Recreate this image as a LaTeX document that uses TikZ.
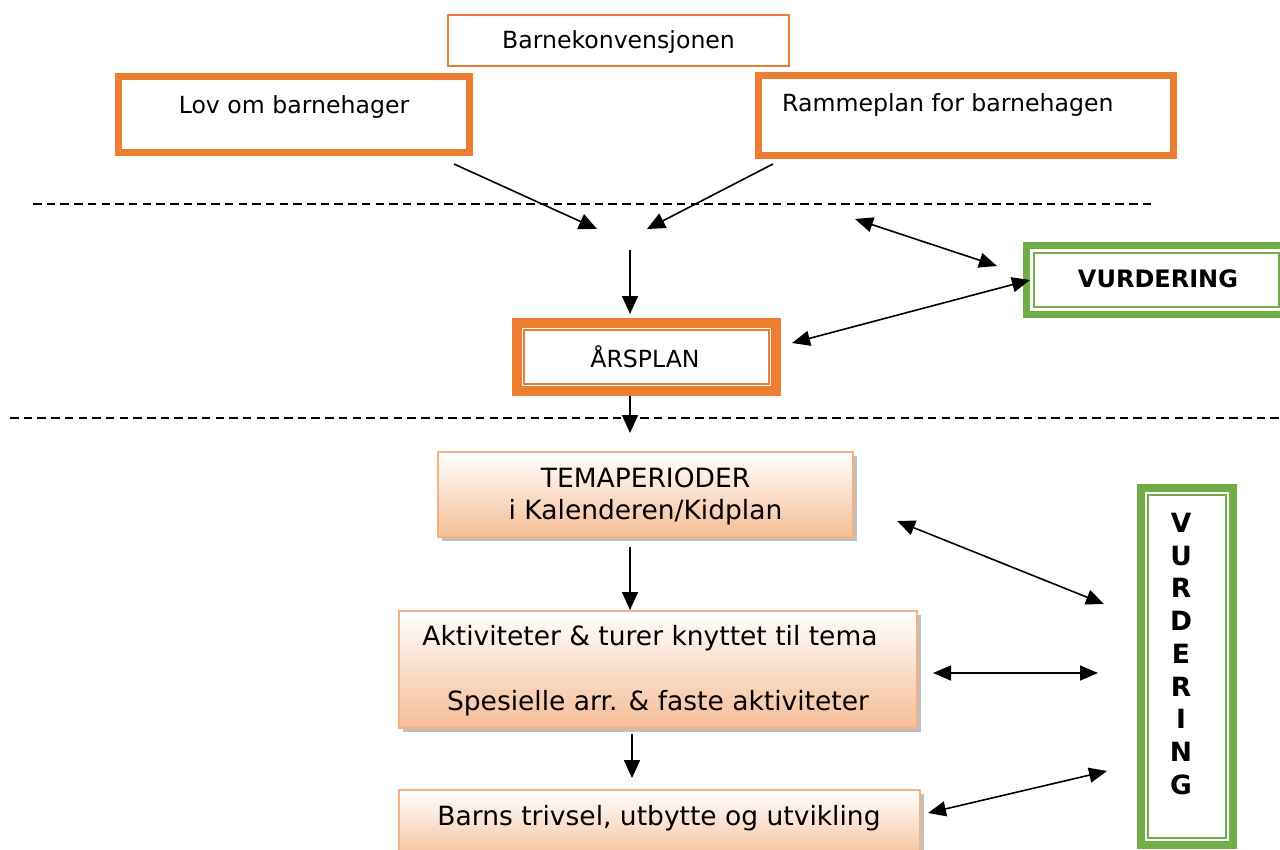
\documentclass[tikz,border=0pt]{standalone}
\usepackage{fontspec}
\setmainfont{DejaVu Sans}
\usetikzlibrary{arrows.meta,shadows}
\definecolor{orng}{HTML}{ED7D31}
\definecolor{grn}{HTML}{70AD47}
\definecolor{peachline}{HTML}{F4B183}
\definecolor{peach}{HTML}{F5BD96}
\newcommand\bandrect[4]{\draw[#2, line width=#4pt] ([shift={(#3,#3)}]#1.north west) rectangle ([shift={(-#3,-#3)}]#1.south east);}
\begin{document}
\begin{tikzpicture}[x=1pt,y=-1pt,
  sizebox/.style={inner sep=0pt, outer sep=0pt, draw=none},
  small/.style={font=\fontsize{23.6}{28}\selectfont, inner sep=0pt},
  big/.style={font=\fontsize{26.5}{32}\selectfont, inner sep=0pt},
  bold/.style={font=\fontsize{24}{32.75}\selectfont\bfseries, inner sep=0pt},
  boldv/.style={font=\fontsize{26.5}{32.75}\selectfont\bfseries, inner sep=0pt},
  peachbox/.style={inner sep=0pt, outer sep=0pt, draw=peachline, line width=2pt,
    top color=white, bottom color=peach,
    drop shadow={shadow xshift=4pt, shadow yshift=-4pt, fill=black, opacity=0.25}},
  conn/.style={line width=1.6pt, -{Triangle[length=18pt,width=16pt]}},
  dconn/.style={line width=1.6pt, {Triangle[length=18pt,width=15pt]}-{Triangle[length=18pt,width=15pt]}},
  sep/.style={line width=1.5pt, dash pattern=on 8.5pt off 5.2pt}
]
\useasboundingbox (0,0) rectangle (1280,849);

% top boxes
\node[sizebox, draw=orng, line width=2pt, minimum width=341pt, minimum height=51pt] (barn) at (618.5,40.5) {};
\node[small] (barnt) at (618.5,42) {Barnekonvensjonen};

\node[sizebox, minimum width=358pt, minimum height=83pt] (lov) at (294,114.5) {};
\bandrect{lov}{orng}{3.5}{7}
\node[small] (lovt) at (294,107) {Lov om barnehager};

\node[sizebox, minimum width=422pt, minimum height=87pt] (ramme) at (966,115.5) {};
\bandrect{ramme}{orng}{3.5}{7}
\node[small, anchor=west] (rammet) at (782,105) {Rammeplan for barnehagen};

% separators
\coordinate (s1a) at (33,204); \coordinate (s1b) at (1155,204);
\draw[sep] (s1a) -- (s1b);
\coordinate (s2a) at (10,418); \coordinate (s2b) at (1285,418);
\draw[sep] (s2a) -- (s2b);

% arrows into centre
\coordinate (lovout) at (454,164); \coordinate (lovin) at (597,229);
\coordinate (ramout) at (773,164); \coordinate (ramin) at (647,229);
\draw[conn] (lovout) -- (lovin);
\draw[conn] (ramout) -- (ramin);
\coordinate (midtop) at (630,250);
\coordinate (arsin) at (630,314);
\draw[conn] (midtop) -- (arsin);

% ÅRSPLAN
\node[sizebox, minimum width=269pt, minimum height=78pt] (ars) at (646.5,357) {};
\bandrect{ars}{orng}{5}{10}
\bandrect{ars}{orng}{12}{1.7}
\node[small] (arst) at (645,357) {ÅRSPLAN};

% VURDERING horizontal
\node[sizebox, minimum width=267pt, minimum height=76pt] (vurdh) at (1156.5,280) {};
\bandrect{vurdh}{grn}{3.5}{7}
\bandrect{vurdh}{grn}{11}{1.7}
\node[bold] (vurdht) at (1158,279) {VURDERING};

\coordinate (v1a) at (855,219); \coordinate (v1b) at (997,266);
\draw[dconn] (v1a) -- (v1b);
\coordinate (v2a) at (792,343); \coordinate (v2b) at (1030,280);
\draw[dconn] (v2a) -- (v2b);

% ÅRSPLAN -> TEMAPERIODER
\coordinate (arsout) at (630,396); \coordinate (temain) at (630,433);
\draw[conn] (arsout) -- (temain);

% TEMAPERIODER
\node[peachbox, minimum width=415pt, minimum height=85pt] (tema) at (645.5,494.5) {};
\node[big, align=center] (temat) at (645.5,496) {TEMAPERIODER\\i Kalenderen/Kidplan};

\coordinate (temaout) at (630,547); \coordinate (aktin) at (630,610);
\draw[conn] (temaout) -- (aktin);

% Aktiviteter
\node[peachbox, minimum width=518pt, minimum height=117pt] (akt) at (658,669.5) {};
\node[big] (akt1) at (650,638) {Aktiviteter \& turer knyttet til tema};
\node[big] (akt2) at (658,703) {Spesielle arr. \& faste aktiviteter};

\coordinate (aktout) at (632,734); \coordinate (barnsin) at (632,778);
\draw[conn] (aktout) -- (barnsin);

% Barns trivsel
\node[peachbox, minimum width=521pt, minimum height=72pt] (barns) at (659.5,826) {};
\node[big] (barnst) at (659,818) {Barns trivsel, utbytte og utvikling};

% VURDERING vertical
\node[sizebox, minimum width=100pt, minimum height=365pt] (vurdv) at (1187,666.5) {};
\bandrect{vurdv}{grn}{4}{8}
\bandrect{vurdv}{grn}{11}{1.7}
\node[boldv, align=center] (vurdvt) at (1181,654) {V\\U\\R\\D\\E\\R\\I\\N\\G};

\coordinate (v3a) at (897,521); \coordinate (v3b) at (1104,604);
\draw[dconn] (v3a) -- (v3b);
\coordinate (v4a) at (933,673); \coordinate (v4b) at (1098,673);
\draw[dconn] (v4a) -- (v4b);
\coordinate (v5a) at (928,813); \coordinate (v5b) at (1107,771);
\draw[dconn] (v5a) -- (v5b);
\end{tikzpicture}
\end{document}
